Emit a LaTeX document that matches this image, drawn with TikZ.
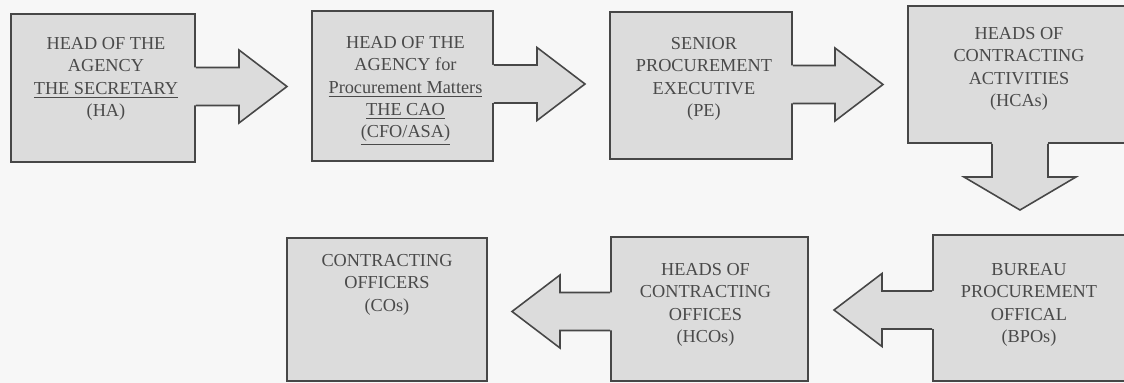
\documentclass[tikz,border=0pt]{standalone}
\usepackage{fontspec}
\setmainfont{Liberation Serif}
\usepackage{tikz}
\usetikzlibrary{calc}
\usetikzlibrary{fit}
\usetikzlibrary{positioning}
\definecolor{boxgray}{HTML}{DCDCDC}
\definecolor{edgegray}{HTML}{474747}
\definecolor{textgray}{HTML}{4A4A4A}
\definecolor{paper}{HTML}{F7F7F7}
\tikzstyle{every node}+=[inner sep=0pt]
\tikzstyle{box}=[fill=boxgray, draw=edgegray, line width=0.9pt]
\tikzstyle{edge}=[draw=edgegray, line width=0.9pt, line join=miter]
\tikzstyle{boxtext}=[align=center, anchor=north, text=textgray, font=\fontsize{10.4}{12.7}\selectfont]

\begin{document}
\begin{tikzpicture}[scale=0.2]
        \clip (0,0) rectangle (112.4,-38.3);
        \fill [paper] (0,0) rectangle (112.4,-38.3);
        \node [box, fit={(1.1,-1.4) (19.5,-16.2)}] (ha) {};
        \node [box, fit={(31.2,-1.1) (49.3,-16.1)}] (cao) {};
        \node [box, fit={(61.0,-1.2) (79.2,-15.9)}] (pe) {};
        \node [box, fit={(90.8,-0.6) (112.8,-14.3)}] (hca) {};
        \node [box, fit={(93.3,-23.5) (112.8,-38.1)}] (bpo) {};
        \node [box, fit={(61.1,-23.7) (80.8,-38.1)}] (hco) {};
        \node [box, fit={(28.7,-23.8) (48.7,-38.1)}] (co) {};
        \coordinate (t1) at (28.7,-8.65);
        \coordinate (t2) at (58.5,-8.4);
        \coordinate (t3) at (88.3,-8.45);
        \coordinate (t4) at (102.0,-21.0);
        \coordinate (t5) at (83.4,-31.0);
        \coordinate (t6) at (51.2,-31.15);
        \foreach \s/\t/\d/\e in {ha/t1/1/east, cao/t2/1/east, pe/t3/1/east, bpo/t5/-1/west, hco/t6/-1/west} {
            \fill [boxgray] ($(\s.center|-\t)+(0,1.9)$) -- ($(\t)+({-4.8*\d},1.9)$) -- ($(\t)+({-4.8*\d},3.65)$) -- (\t)
                -- ($(\t)+({-4.8*\d},-3.65)$) -- ($(\t)+({-4.8*\d},-1.9)$) -- ($(\s.center|-\t)+(0,-1.9)$) -- cycle;
            \draw [edge] ($(\s.\e|-\t)+(0,1.9)$) -- ($(\t)+({-4.8*\d},1.9)$) -- ($(\t)+({-4.8*\d},3.65)$) -- (\t)
                -- ($(\t)+({-4.8*\d},-3.65)$) -- ($(\t)+({-4.8*\d},-1.9)$) -- ($(\s.\e|-\t)+(0,-1.9)$);
        }
        \fill [boxgray] ($(hca.center-|t4)+(2.8,0)$) -- ($(t4)+(2.8,3.3)$) -- ($(t4)+(5.6,3.3)$) -- (t4)
            -- ($(t4)+(-5.6,3.3)$) -- ($(t4)+(-2.8,3.3)$) -- ($(hca.center-|t4)+(-2.8,0)$) -- cycle;
        \draw [edge] ($(hca.south-|t4)+(2.8,0)$) -- ($(t4)+(2.8,3.3)$) -- ($(t4)+(5.6,3.3)$) -- (t4)
            -- ($(t4)+(-5.6,3.3)$) -- ($(t4)+(-2.8,3.3)$) -- ($(hca.south-|t4)+(-2.8,0)$);
        \node [boxtext] (hatext) at ($(ha.north)+(0.3,-2.4)$) {HEAD OF THE\\AGENCY\\\underline{THE SECRETARY}\\(HA)};
        \node [boxtext] (caotext) at ($(cao.north)+(0.3,-2.6)$) {HEAD OF THE\\AGENCY for\\\underline{Procurement Matters}\\\underline{THE CAO}\\\underline{(CFO/ASA)}};
        \node [boxtext] (petext) at ($(pe.north)+(0.3,-2.6)$) {SENIOR\\PROCUREMENT\\EXECUTIVE\\(PE)};
        \node [boxtext] (hcatext) at (101.9,-2.7) {HEADS OF\\CONTRACTING\\ACTIVITIES\\(HCAs)};
        \node [boxtext] (bpotext) at (102.9,-26.3) {BUREAU\\PROCUREMENT\\OFFICAL\\(BPOs)};
        \node [boxtext] (hcotext) at ($(hco.north)+(-0.4,-2.7)$) {HEADS OF\\CONTRACTING\\OFFICES\\(HCOs)};
        \node [boxtext] (cotext) at ($(co.north)+(0,-1.7)$) {CONTRACTING\\OFFICERS\\(COs)};
    \end{tikzpicture}
\end{document}
